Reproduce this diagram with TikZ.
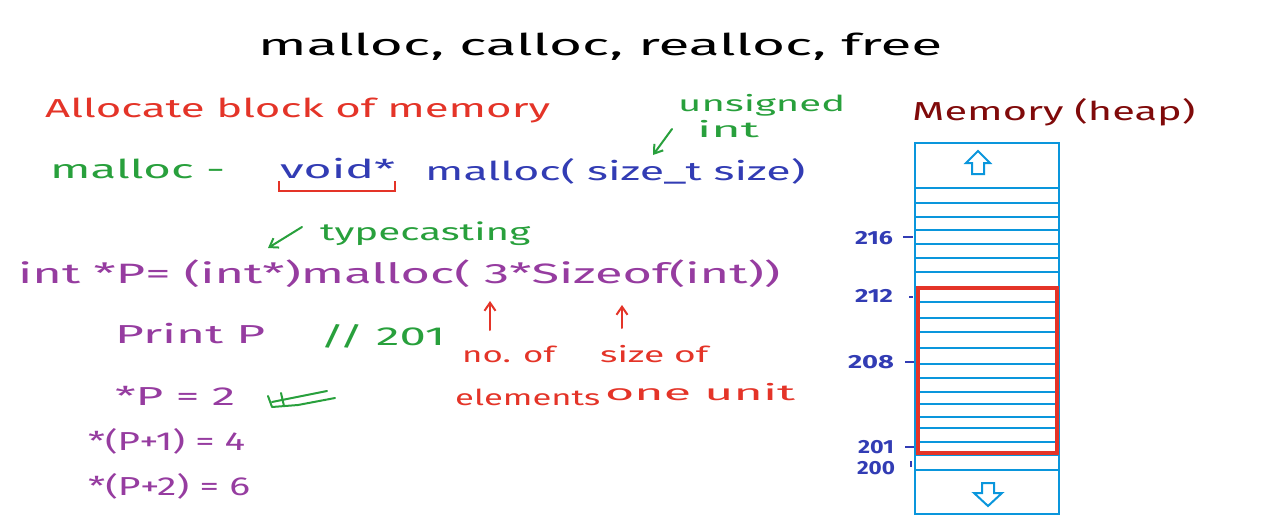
\documentclass[tikz,border=0pt]{standalone}
\usepackage{fontspec}
\usepackage{graphicx}
\setmainfont{Fira Sans}
\usetikzlibrary{arrows.meta}
\definecolor{hred}{RGB}{228,52,40}
\definecolor{hgreen}{RGB}{40,160,60}
\definecolor{hblue}{RGB}{50,60,180}
\definecolor{hpurple}{RGB}{150,60,160}
\definecolor{memblue}{RGB}{10,150,220}
\definecolor{darkred}{RGB}{128,10,10}
\newcommand{\fitw}[2]{\resizebox{#1pt}{\height}{#2}}
\newcommand{\fs}[1]{\fontsize{#1}{#1}\selectfont}
\begin{document}
\begin{tikzpicture}[x=1pt,y=-1pt,
  hw/.style={inner sep=0pt,anchor=base west},
  cell/.style={memblue,line width=2.2pt},
  redbox/.style={hred,line width=3.2pt},
  lbl/.style={hblue,inner sep=0pt,anchor=center,font=\fs{19}\bfseries},
  tick/.style={hblue,line width=1.8pt},
  harrow/.style={line width=2pt,line cap=round,-{Straight Barb[length=8pt,width=11pt,line width=2pt]}},
  greenmark/.style={hgreen,line width=2pt,line cap=round,line join=round},
  blockarrow/.style={memblue,line width=2pt,line join=miter}]
\useasboundingbox (0,0) rectangle (1270,525);
\fill[white] (0,0) rectangle (1270,525);

% title
\node[hw] (title) at (258,55) {\fitw{684}{\fs{30}malloc, calloc, realloc, free}};

% red heading
\node[hw,hred] (alloc) at (45,117) {\fitw{505}{\fs{26}Allocate block of memory}};

% unsigned int
\node[hw,hgreen] (unsig) at (678,111) {\fitw{167}{\fs{22}unsigned}};
\node[hw,hgreen] (uint) at (697,137) {\fitw{62}{\fs{22}int}};
\coordinate (ua1) at (672,129);
\coordinate (ua2) at (653,155);
\draw[harrow,hgreen] (ua1) -- (ua2);

% malloc signature
\node[hw,hgreen] (mdash) at (50,178) {\fitw{175}{\fs{26}malloc -}};
\node[hw,hblue] (voidp) at (280,178) {\fitw{115}{\fs{26}void*}};
\draw[hred,line width=2pt] (279,181) -- (279,191) -- (395,191) -- (395,181);
\node[hw,hblue] (msig) at (425,180) {\fitw{380}{\fs{26}malloc( size\_t size)}};

% typecasting
\node[hw,hgreen] (typec) at (320,240) {\fitw{210}{\fs{24}typecasting}};
\coordinate (ta1) at (302,227);
\coordinate (ta2) at (268,248);
\draw[harrow,hgreen] (ta1) -- (ta2);

% main statement
\node[hw,hpurple] (stmt) at (18,283) {\fitw{762}{\fs{28}int *P= (int*)malloc( 3*Sizeof(int))}};

% red annotations
\coordinate (ra1) at (490,330);
\coordinate (ra2) at (490,301);
\draw[harrow,hred] (ra1) -- (ra2);
\coordinate (rb1) at (622,328);
\coordinate (rb2) at (622,305);
\draw[harrow,hred] (rb1) -- (rb2);
\node[hw,hred] (noof) at (462,362) {\fitw{93}{\fs{22}no. of}};
\node[hw,hred] (elem) at (455,405) {\fitw{145}{\fs{22}elements}};
\node[hw,hred] (sizeof) at (600,362) {\fitw{108}{\fs{22}size of}};
\node[hw,hred] (unit) at (605,400) {\fitw{190}{\fs{22}one unit}};

% print lines
\node[hw,hpurple] (printp) at (115,343) {\fitw{150}{\fs{26}Print P}};
\node[hw,hgreen] (cmt) at (320,345) {\fitw{125}{\fs{26}// 201}};
\node[hw,hpurple] (p0) at (115,405) {\fitw{120}{\fs{26}*P = 2}};
\node[hw,hpurple] (p1) at (88,450) {\fitw{157}{\fs{26}*(P+1) = 4}};
\node[hw,hpurple] (p2) at (88,495) {\fitw{162}{\fs{26}*(P+2) = 6}};

% green mark
\draw[greenmark] (268,396) -- (272,407) -- (298,405) -- (335,398);
\draw[greenmark] (281,393) -- (284,406);
\draw[greenmark] (272,402) -- (327,391);

% memory
\node[hw,darkred] (memtitle) at (912,120) {\fitw{283}{\fs{26}Memory (heap)}};
\draw[cell] (915,143) rectangle (1059,514);
\foreach \yy in {188,203,217,230,244,258,272,302,318,332,348,364,378,392,404,417,428,442,455,470}
  \draw[cell] (915,\yy) -- (1059,\yy);
\draw[redbox] (918,288) rectangle (1057,453);

% block arrows
\draw[blockarrow] (978,151) -- (966,163) -- (972,163) -- (972,174) -- (984,174) -- (984,163) -- (990,163) -- cycle;
\draw[blockarrow] (988,506) -- (974,493) -- (982,493) -- (982,483) -- (994,483) -- (994,493) -- (1002,493) -- cycle;

% address labels
\node[lbl] (a216) at (874,238) {\fitw{38}{216}};
\draw[tick] (903,237) -- (913,237);
\node[lbl] (a212) at (874,296) {\fitw{38}{212}};
\draw[tick] (909,297) -- (913,297);
\node[lbl] (a208) at (871,362) {\fitw{46}{208}};
\draw[tick] (905,362) -- (914,362);
\node[lbl] (a201) at (876,447) {\fitw{36}{201}};
\draw[tick] (905,447) -- (914,447);
\node[lbl] (a200) at (876,468) {\fitw{38}{200}};
\draw[tick] (911,461) -- (911,467);
\end{tikzpicture}
\end{document}
